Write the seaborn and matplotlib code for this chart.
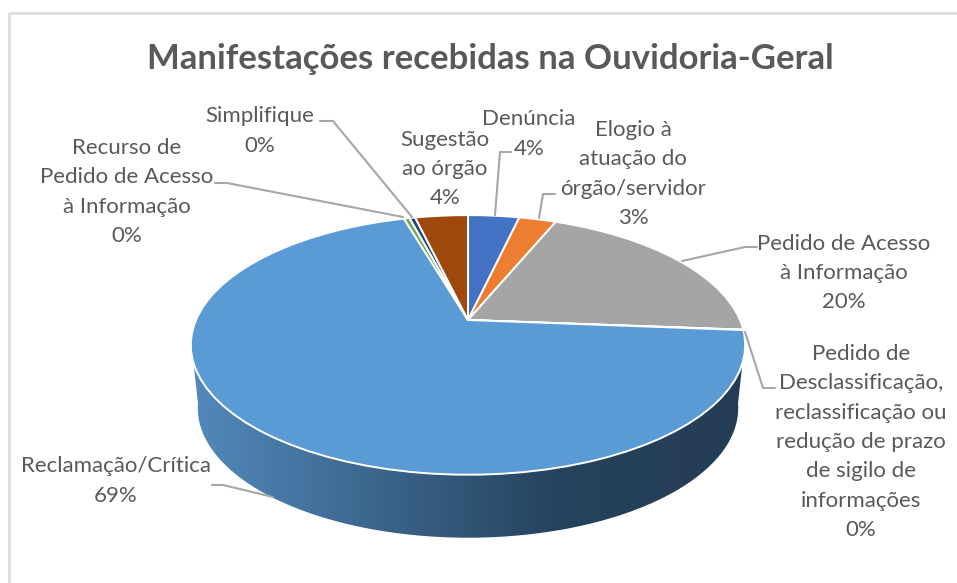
import numpy as np
import matplotlib
matplotlib.use('Agg')
import matplotlib.pyplot as plt
from matplotlib.colors import LinearSegmentedColormap
from matplotlib.patches import Polygon
from matplotlib.transforms import Transform
import seaborn as sns

# --- dados ---
categorias = [
    'Denúncia',
    'Elogio à\natuação do\nórgão/servidor',
    'Pedido de Acesso\nà Informação',
    'Pedido de\nDesclassificação,\nreclassificação ou\nredução de prazo\nde sigilo de\ninformações',
    'Reclamação/Crítica',
    'Recurso de\nPedido de Acesso\nà Informação',
    'Simplifique',
    'Sugestão\nao órgão',
]
valores = [3.6, 2.6, 20.0, 0.05, 69.2, 0.4, 0.4, 3.7]
cores = ['#4472C4', '#ED7D31', '#A5A5A5', '#FFC000', '#5B9BD5', '#70AD47', '#264478', '#9E480E']
titulo = 'Manifestações recebidas na Ouvidoria-Geral'

# --- layout em pixels ---
LARG, ALT = 957, 583
CX, CY = 468, 320
ESC_X, ESC_Y, K = 272, 125, 0.192
PROF = 63
COR_TEXTO = '#595959'
COR_GUIA = '#A6A6A6'

# centro do rotulo (x, y) e linha guia de cada categoria
pos_rotulos = [(529, 134), (633, 174), (844, 273), (861, 442), (116, 481), (127, 192), (260, 131), (445, 169)]
guias = [
    [(511, 152), (500, 152), (495, 215)],
    [(555, 194), (543, 194), (539, 218)],
    [(757, 247), (745, 247), (682, 261)],
    [(775, 388), (763, 388), (745, 332)],
    [(212, 485), (223, 485), (273, 497)],
    [(215, 183), (227, 183), (403, 217)],
    [(320, 121), (333, 121), (412, 217)],
    None,
]


def perspectiva(x, y):
    w = 1 + K * y
    return CX + ESC_X * x / w, CY - ESC_Y * y / w


class Perspectiva(Transform):
    input_dims = 2
    output_dims = 2
    is_separable = False

    def transform_non_affine(self, values):
        values = np.asarray(values, dtype=float)
        return np.column_stack(perspectiva(values[:, 0], values[:, 1]))


sns.set_theme(style='white')
plt.rcParams['font.family'] = ['Lato', 'DejaVu Sans']

fig, ax = plt.subplots(figsize=(LARG / 100, ALT / 100), dpi=100)
fig.subplots_adjust(0, 0, 1, 1)

fatias, _ = ax.pie(valores, colors=sns.color_palette(cores), startangle=90, counterclock=False,
                   wedgeprops=dict(edgecolor='white', linewidth=1.4, zorder=3))
ax.set_aspect('auto')
ax.set_xlim(0, LARG)
ax.set_ylim(ALT, 0)
ax.axis('off')

trans = Perspectiva() + ax.transData
for f in fatias:
    f.set_transform(trans)

# parede lateral com gradiente
t = np.linspace(np.pi * 1.05, np.pi * 1.95, 200)
xb, yb = perspectiva(np.cos(t), np.sin(t))
xf = CX + (xb - CX) * 0.975
yf = yb + PROF
parede = Polygon(np.r_[np.c_[xb, yb], np.c_[xf, yf][::-1]], closed=True, transform=ax.transData)
grad = LinearSegmentedColormap.from_list('parede', [
    (0.0, '#5289BC'), (0.2, '#44749F'), (0.45, '#33597C'), (0.66, '#26435D'), (1.0, '#233D54')])
img = ax.imshow(np.linspace(0, 1, 256).reshape(1, -1), cmap=grad, extent=(191, 746, 560, 300),
                aspect='auto', zorder=2)
img.set_clip_path(parede)
ax.set_xlim(0, LARG)
ax.set_ylim(ALT, 0)

# moldura do grafico
ax.plot([9, 9, LARG], [ALT, 13, 13], color='#D9D9D9', lw=1.8, zorder=1)

# rotulos e linhas guia
for nome, v, (x, y), guia in zip(categorias, valores, pos_rotulos, guias):
    ax.text(x, y, f'{nome}\n{round(v)}%', ha='center', va='center', fontsize=16,
            color=COR_TEXTO, linespacing=1.58, zorder=5)
    if guia is not None:
        gx, gy = zip(*guia)
        ax.plot(gx, gy, color=COR_GUIA, lw=1.5, zorder=4)

ax.text(490, 59, titulo, ha='center', va='center', fontsize=25, fontweight='bold', color=COR_TEXTO)

fig.savefig('out.png', dpi=100)
plt.close(fig)
